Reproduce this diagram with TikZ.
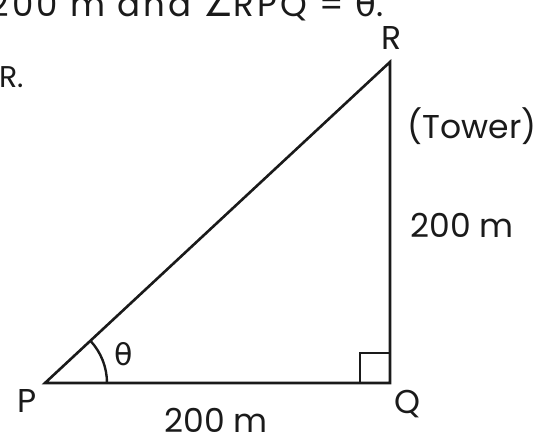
\documentclass[tikz,border=0pt]{standalone}
\usepackage{fontspec}
\setmainfont{Poppins}
\newfontfamily\symfont{DejaVu Sans}
\newfontfamily\widefont[LetterSpace=9]{Poppins}
\newfontfamily\widesym[LetterSpace=9]{DejaVu Sans}
\usetikzlibrary{angles}
\definecolor{ink}{HTML}{1A1A1A}
\tikzset{
  side/.style={draw=ink,line width=2.6pt,line join=miter},
  anglemark/.style={draw=ink,line width=2.4pt},
  vlab/.style={font=\fontsize{33}{38}\selectfont,text=ink,inner sep=0pt},
  dimlab/.style={font=\fontsize{33}{38}\selectfont,text=ink,inner sep=0pt},
  bodytxt/.style={font=\fontsize{30}{34}\selectfont,text=ink,inner sep=0pt},
}

\begin{document}
\begin{tikzpicture}[x=1pt,y=-1pt]
\useasboundingbox (0,0) rectangle (536,440);
\clip (0,0) rectangle (536,440);

% ================= TEXT AROUND =================
\node[bodytxt,font=\fontsize{34}{38}\widefont,anchor=base east] (head) at (384,16) {200 m and {\widesym ∠}RPQ = {\widesym θ}.};
\node[bodytxt,anchor=base west] (tail) at (-1,87) {R.};

% ================= TRIANGLE =================
\coordinate (P) at (45,383);
\coordinate (Q) at (390,383);
\coordinate (R) at (390,62);
\draw[side] (P) -- (Q) -- (R) -- cycle;
\pic[anglemark,angle radius=62pt] {angle=Q--P--R};
\pic[anglemark,angle radius=30pt] {right angle=P--Q--R};

% ================= LABELS =================
\node[vlab] (Plab) at (27,401) {P};
\node[vlab] (Qlab) at (407,404) {Q};
\node[vlab] (Rlab) at (392,38) {R};
\node[vlab,font=\fontsize{30}{34}\selectfont\symfont] (th) at (124,354) {θ};
\node[dimlab] (base) at (216,420) {200 m};
\node[dimlab] (height) at (462,225) {200 m};
\node[dimlab] (tower) at (472,126) {(Tower)};

\end{tikzpicture}
\end{document}
